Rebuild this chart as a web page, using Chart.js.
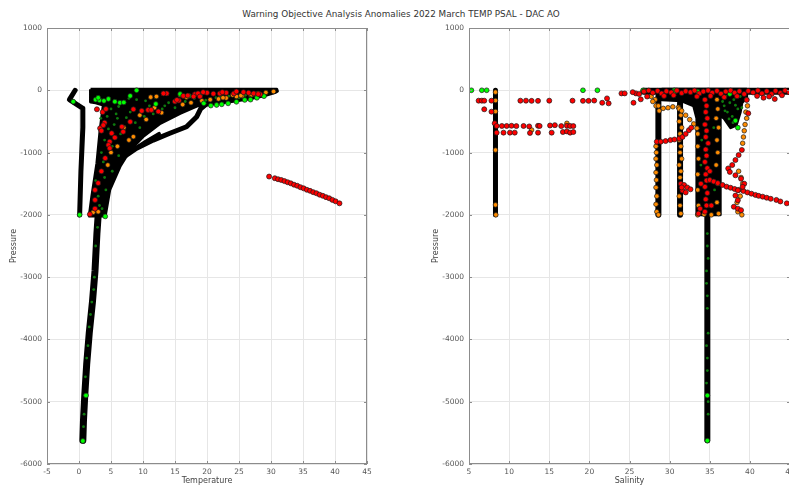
<!DOCTYPE html>
<html>
<head>
<meta charset="utf-8">
<script src="https://cdn.jsdelivr.net/npm/chart.js@4.4.1/dist/chart.umd.min.js"></script>
<style>
  html, body { margin: 0; padding: 0; background: #fff; overflow: hidden; width: 789px; height: 485px; }
  #title { position: absolute; left: 0; top: 9px; width: 802px; text-align: center;
           font: 8.8px "DejaVu Sans", sans-serif; color: #333; white-space: nowrap; }
  canvas { position: absolute; top: 0; }
</style>
</head>
<body>
<div id="title">Warning Objective Analysis Anomalies 2022 March TEMP PSAL - DAC AO</div>
<canvas id="tempChart" width="400" height="485" style="left:0"></canvas>
<canvas id="psalChart" width="420" height="485" style="left:400px"></canvas>
<script>
// axis ranges
const pressureRange = [-6000, 1000];
const tempRange = [-5, 45];
const psalRange = [5, 45];

// ---- TEMP panel: [temperature, pressure] ----
const tempMass = [[1.8,15],[30.9,15],[31.0,-15],[30.6,-38],[28.8,-92],[26.2,-145],[23.6,-183],[21,-220],
  [19.4,-245],[18.5,-250],[15.8,-370],[12.7,-530],[10,-745],[8,-958],[6.4,-1225],[4.8,-1600],[4.1,-2020],
  [1.6,-2020],[2.0,-1710],[2.8,-1170],[3.3,-640],[3.8,-236],[2.6,-200],[1.8,-190],[1.8,15]];
const tempSideProfile = [[-0.6,0],[-1.5,-150],[0.6,-290],[0.6,-600],[0.3,-1300],[0.1,-2000]];
const tempArm = [[19.8,-230],[19.0,-300],[18.4,-424],[16.8,-585],[14.2,-690],[11.6,-800],[9.0,-930],[7.4,-1040]];
const tempArmInner = [[12.5,-700],[10.5,-820],[8.6,-950]];
const tempDeep = [[3.0,-2000],[2.8,-2300],[2.5,-2900],[2.1,-3400],[1.6,-3900],[1.2,-4400],[0.9,-4900],[0.7,-5300],[0.6,-5620]];
const tempRed = [[2.8,-305],[3.7,-350],[3.3,-610],[3.5,-650],[5.1,-690],[4.8,-825],[4.6,-880],[4.8,-930],
  [4.1,-1090],[3.5,-1300],[3.0,-1490],[2.5,-1600],[2.5,-1760],[2.5,-1900],[1.7,-1990],[6.7,-585],[6.9,-665],
  [8.0,-505],[8.5,-305],[10.8,-315],[11.3,-315],[12.4,-340],[15.0,-180],[15.6,-165],[16.3,-90],[17.0,-85],
  [18.1,-65],[13.7,-50],[13.2,-50],[15.3,-155],[20.0,-40],[21.0,-55],[22.0,-50],[23.0,-40],[24.2,-50],
  [25.7,-30],[26.5,-40],[27.3,-50],[28.3,-65],[18.6,-50],[19.4,-30],[4.0,-520],[3.8,-560],[5.6,-760],
  [17.9,-100],[18.9,-100],[22.4,-30],[24.6,-20],[28.0,-60],[9.8,-330],[4.2,-300]];
const tempRedLine = [[29.7,-1385],[30.6,-1412],[31.1,-1428],[31.6,-1440],[32.1,-1458],[32.6,-1476],[33.1,-1494],
  [33.6,-1516],[34.1,-1533],[34.6,-1556],[35.1,-1574],[35.6,-1597],[36.1,-1614],[36.6,-1636],[37.1,-1653],
  [37.6,-1676],[38.1,-1694],[38.6,-1716],[39.1,-1734],[39.6,-1760],[40.1,-1783],[40.7,-1815]];
const tempOrange = [[19.2,-170],[20.5,-150],[21.8,-140],[23,-125],[24.6,-100],[25.5,-90],[26.8,-70],[28,-50],
  [29.2,-35],[30.4,-20],[17.5,-200],[16.2,-230],[12.9,-360],[11.8,-280],[8.5,-745],[7.8,-800],[3.0,-1950],
  [2.2,-1960],[4.5,-1200],[5,-1000],[6,-900],[7,-600],[9.5,-400],[10.5,-470],[22.5,-120],[27.5,-60],
  [12.1,-100],[11.2,-110],[15.8,-75],[16.8,-110],[24,-75],[25.3,-85],[27,-70]];
const tempGreen = [[2.6,-150],[3.2,-160],[3.9,-170],[4.6,-140],[5.6,-183],[6.4,-200],[7.0,-195],[9.0,0],
  [15.8,-60],[17.2,-90],[18.9,-80],[21.5,-236],[22.3,-225],[23.3,-210],[24.6,-185],[25.9,-155],[26.8,-150],
  [27.8,-120],[28.9,-95],[-0.9,-183],[0.1,-2000],[4.1,-2025],[1.1,-4900],[0.6,-5630],[3.0,-120],[8.0,-90],
  [12,-220],[19.5,-210],[20.6,-245]];
const tempSpeck = [[5,-300],[7,-200],[9,-150],[11,-250],[6,-450],[8,-350],[4,-800],[5.5,-550],[3.5,-1000],
  [4,-1400],[3,-1700],[12,-120],[14,-200],[18,-130],[22,-100],[26,-80],[2.6,-2500],[2.4,-3000],[2.0,-3400],
  [1.6,-3800],[1.4,-4100],[1.0,-4600],[0.8,-5200],[0.7,-5400],[6.5,-700],[9.5,-600],[3.2,-1850],[13,-300],
  [4.4,-420],[5.8,-380],[7.4,-440],[8.8,-520],[10.2,-420],[11.6,-380],[13.4,-250],[15,-280],[16.6,-180],
  [19.8,-160],[21.4,-120],[23.4,-95],[25,-120],[6.2,-260],[7.8,-130],[10.4,-170],[3.4,-450],[4.6,-620],
  [5.2,-900],[6.2,-1050],[3.8,-1150],[4.2,-1600],[3.4,-1300],[2.6,-1450],[3.6,-1900],[5.2,-1300],
  [2.9,-2200],[2.3,-3200],[1.8,-3600],[1.2,-4300],[0.9,-4900]];

// ---- PSAL panel: [salinity, pressure] ----
const psalMass = [[29.0,15],[39.6,15],[39.6,-120],[39.0,-200],[38.8,-350],[38.3,-560],[37.6,-600],[36.8,-450],
  [36.3,-400],[36.3,-2000],[33.4,-2000],[33.4,-450],[33.0,-250],[31.5,-170],[29.0,-150],[29.0,15]];
const psalFreshColumn = [[8.3,0],[8.3,-2000]];
const psalColumnA = [[28.6,-100],[28.6,-2000]];
const psalColumnB = [[31.3,-200],[31.3,-2000]];
const psalSurface = [[26.8,-15],[45,-15]];
const psalDeep = [[34.7,-2000],[34.7,-5620]];
const psalRed = [[6.2,-167],[6.6,-167],[6.9,-167],[7.8,-167],[11.4,-167],[12.1,-167],[12.8,-170],[13.6,-170],
  [15.0,-167],[17.9,-167],[19.2,-170],[19.9,-170],[20.6,-165],[21.6,-200],[22.2,-130],[22.4,-210],[6.9,-305],
  [7.8,-343],[8.2,-530],
  [8.45,-573],[9.1,-573],[9.7,-573],[10.3,-570],[10.9,-575],[11.8,-573],[12.5,-580],[13.6,-570],[13.8,-573],
  [15.1,-565],[15.7,-560],[16.5,-575],[17.2,-570],[17.6,-573],[18.0,-575],
  [8.45,-680],[9.3,-680],[10.1,-680],[10.7,-680],[12.6,-685],[13.6,-680],[15.3,-680],[16.7,-670],[17.2,-660],
  [17.6,-680],[18.0,-670],
  [24.0,-50],[24.4,-50],[25.5,-200],[25.8,-50],[26.4,-145],[25.4,-30],[26.2,-60],[27.2,-100],
  [26.8,-20],[27.4,-5],[27.9,-40],[28.5,-10],[29.0,-50],[29.6,-15],[30.2,-35],[30.9,-5],[31.5,-45],[32.0,-15],
  [32.6,-30],[33.1,-5],[33.7,-50],[34.2,-20],[34.8,-5],[35.3,-40],[35.9,-10],[36.4,-55],[37.0,-20],[37.6,-5],
  [38.1,-40],[38.7,-15],[39.3,-60],[39.8,-10],[40.4,-35],[41.0,-5],[41.5,-50],[42.1,-15],[42.7,-60],[43.2,-10],
  [43.8,-45],[44.4,-5],[44.9,-30],[29.3,-90],[30.5,-80],[33.4,-100],[35.1,-90],[36.8,-110],[38.4,-95],
  [40.9,-90],[42.4,-100],[44.0,-80],[41.7,-120],[43.1,-140],
  [28.4,-825],[28.9,-825],[29.5,-815],[30.1,-800],[30.6,-790],[31.2,-775],[31.6,-750],[32.0,-700],[32.4,-640],[32.7,-600],
  [34.4,-150],[34.6,-250],[34.5,-350],[34.7,-450],[34.4,-550],[34.6,-650],[34.5,-750],[34.8,-850],[34.5,-950],
  [34.6,-1050],[34.4,-1150],[34.7,-1250],[34.5,-1350],[34.6,-1450],[34.4,-1550],[34.7,-1650],[34.5,-1750],
  [34.6,-1850],[34.4,-1950],[33.9,-1500],[35.0,-1300],[33.8,-1900],[35.2,-1850],[33.6,-1980],
  [31.4,-1500],[31.8,-1520],[32.2,-1560],[32.6,-1590],[31.6,-1610],[32.0,-1640],[31.5,-1560],
  [35.0,-1440],[35.5,-1465],[36.0,-1490],[36.6,-1520],[37.1,-1547],[37.6,-1565],[38.1,-1585],[38.6,-1600],
  [39.2,-1617],[39.7,-1640],[40.2,-1660],[40.7,-1680],[41.1,-1695],[41.6,-1708],[42.1,-1725],[42.6,-1742],
  [43.3,-1760],[43.8,-1785],[44.6,-1815],
  [39.6,-155],[39.8,-370],[39.0,-958],[38.6,-1040],[38.2,-1120],[37.8,-1200],[37.3,-1255],[37.5,-1310],
  [38.2,-1365],[38.9,-1420],[39.3,-1500],[39.1,-1550],[38.5,-1605],[38.2,-1690],[38.5,-1765],[38.0,-1870],
  [38.5,-1900],[38.9,-1925]];
const psalOrange = [[8.3,-30],[8.3,-165],[8.3,-340],[8.3,-960],[8.3,-1840],[8.35,-2000],[12.8,-637],[17.2,-530],
  [28.3,-900],[28.35,-1000],[28.3,-1100],[28.4,-1200],[28.3,-1320],[28.35,-1440],[28.3,-1560],[28.4,-1700],
  [28.3,-1830],[28.4,-1950],[28.6,-2000],[28.2,-150],[28.3,-250],[28.7,-330],
  [27.7,-100],[27.9,-180],[28.6,-250],[29.2,-290],[29.8,-280],[30.4,-265],[31.1,-275],
  [31.2,-300],[31.4,-400],[31.2,-500],[31.5,-600],[31.3,-700],[31.2,-800],[31.4,-900],[31.3,-1000],
  [31.5,-1100],[31.2,-1200],[31.4,-1300],[31.3,-1400],[31.2,-1700],[31.3,-1850],[31.4,-1980],
  [31.5,-330],[32.0,-400],[32.5,-470],[33.0,-540],[33.4,-610],
  [33.5,-700],[33.5,-900],[33.6,-1100],[33.5,-1350],[33.5,-1600],[33.6,-1850],[33.5,-2000],
  [35.9,-150],[36.0,-300],[35.8,-450],[36.1,-600],[35.9,-800],[36.0,-1000],[35.8,-1200],[36.0,-1500],
  [35.9,-1800],[36.1,-1980],[34.3,-1990],[35.2,-2000],
  [39.6,-150],[39.7,-250],[39.5,-350],[39.6,-450],[39.4,-550],[39.3,-650],[39.2,-750],[39.1,-850],
  [38.6,-1300],[38.9,-1400],[39.1,-1500],[38.8,-1700],[38.4,-1800],[38.5,-1950],[39.0,-2000]];
const psalGreen = [[5.3,0],[6.6,0],[7.2,0],[19.2,0],[21.0,0],[26.7,0],[26.9,-10],[30.6,0],[30.7,-20],
  [38.2,-488],[38.5,-600],[34.7,-4900],[34.7,-5625],[33.5,-20],[37.5,-60]];
const psalSpeck = [[37,-100],[37.5,-200],[38,-150],[38.5,-300],[37.2,-350],[36.8,-250],[38.8,-100],[37.8,-420],
  [34.7,-2300],[34.8,-2700],[34.6,-3100],[34.7,-3500],[34.8,-3900],[34.7,-4300],[34.6,-4700],[34.8,-5200],
  [34.0,-800],[35.5,-600],[33.9,-1200],[35.6,-1600],[36.6,-180],[38.2,-240],[37.9,-520],[37.4,-460],
  [39.0,-280],[36.9,-330],[34.7,-2500],[34.6,-2900],[34.7,-3300],[34.6,-4100],[34.7,-4500],[34.8,-5000]];

const font = '"DejaVu Sans", sans-serif';
const xy = list => list.map(p => ({ x: p[0], y: p[1] }));

function dots(list, color, r, edge) {
  return { data: xy(list), showLine: false, pointRadius: r, pointHoverRadius: r,
           backgroundColor: color, borderColor: edge || '#1a1a1a', pointBorderWidth: edge === null ? 0 : 0.7 };
}
function path(list, w) {
  return { data: xy(list), showLine: true, borderColor: '#000', borderWidth: w, pointRadius: 0,
           borderCapStyle: 'round', borderJoinStyle: 'round', fill: false };
}
function mass(list) {
  return { data: xy(list), showLine: true, borderColor: '#000', borderWidth: 3, pointRadius: 0,
           backgroundColor: '#000', borderJoinStyle: 'round', fill: 'shape' };
}

// frame around plot area with inward tick marks
const axesBox = {
  id: 'axesBox',
  afterDraw(chart) {
    const { ctx, chartArea: a, scales: { x, y } } = chart;
    ctx.save();
    ctx.strokeStyle = '#8c8c8c';
    ctx.lineWidth = 1;
    ctx.strokeRect(a.left + 0.5, a.top + 0.5, a.width - 1, a.height - 1);
    ctx.beginPath();
    x.ticks.forEach(t => {
      const px = Math.round(x.getPixelForValue(t.value)) + 0.5;
      ctx.moveTo(px, a.bottom); ctx.lineTo(px, a.bottom - 3);
      ctx.moveTo(px, a.top); ctx.lineTo(px, a.top + 3);
    });
    y.ticks.forEach(t => {
      const py = Math.round(y.getPixelForValue(t.value)) + 0.5;
      ctx.moveTo(a.left, py); ctx.lineTo(a.left + 3, py);
      ctx.moveTo(a.right, py); ctx.lineTo(a.right - 3, py);
    });
    ctx.stroke();
    ctx.restore();
  }
};

function makePanel(id, xName, xRange, padLeft, padRight, datasets) {
  return new Chart(document.getElementById(id), {
    type: 'scatter',
    data: { datasets },
    options: {
      responsive: false,
      animation: false,
      layout: { padding: { top: 28, left: padLeft, right: padRight, bottom: 0 } },
      plugins: { legend: { display: false }, tooltip: { enabled: false } },
      scales: {
        x: {
          type: 'linear', min: xRange[0], max: xRange[1],
          ticks: { stepSize: 5, padding: 4, color: '#555', font: { family: font, size: 7.5 }, maxRotation: 0 },
          grid: { color: '#e6e6e6', drawTicks: false },
          border: { display: false },
          title: { display: true, text: xName, color: '#444', font: { family: font, size: 8, lineHeight: 1 },
                   padding: { top: 0, bottom: 0 } },
          afterFit: s => { s.height = 21; }
        },
        y: {
          type: 'linear', min: pressureRange[0], max: pressureRange[1],
          ticks: { stepSize: 1000, padding: 5, color: '#555', font: { family: font, size: 7.5 },
                   callback: v => String(v) },
          grid: { color: '#e6e6e6', drawTicks: false },
          border: { display: false },
          title: { display: true, text: 'Pressure', color: '#444', font: { family: font, size: 8, lineHeight: 1 },
                   padding: { top: 10, bottom: 0 } },
          afterFit: s => { s.width = 47; }
        }
      }
    },
    plugins: [axesBox]
  });
}

// datasets listed top-most first
makePanel('tempChart', 'Temperature', tempRange, 0, 33, [
  dots(tempRed, '#ff0000', 2.5),
  dots(tempRedLine, '#ff0000', 2.5),
  dots(tempGreen, '#00ff00', 2.4),
  dots(tempOrange, '#ff8c00', 2.3),
  dots(tempSpeck, '#0e7a0e', 1.4, null),
  path(tempSideProfile, 5),
  path(tempArm, 5),
  path(tempArmInner, 4),
  path(tempDeep, 7),
  mass(tempMass)
]);

makePanel('psalChart', 'Salinity', psalRange, 22, 30, [
  dots(psalRed, '#ff0000', 2.5),
  dots(psalGreen, '#00ff00', 2.4),
  dots(psalOrange, '#ff8c00', 2.3),
  dots(psalSpeck, '#0e7a0e', 1.4, null),
  path(psalFreshColumn, 5),
  path(psalColumnA, 6),
  path(psalColumnB, 6),
  path(psalSurface, 7),
  path(psalDeep, 6),
  mass(psalMass)
]);
</script>
</body>
</html>
